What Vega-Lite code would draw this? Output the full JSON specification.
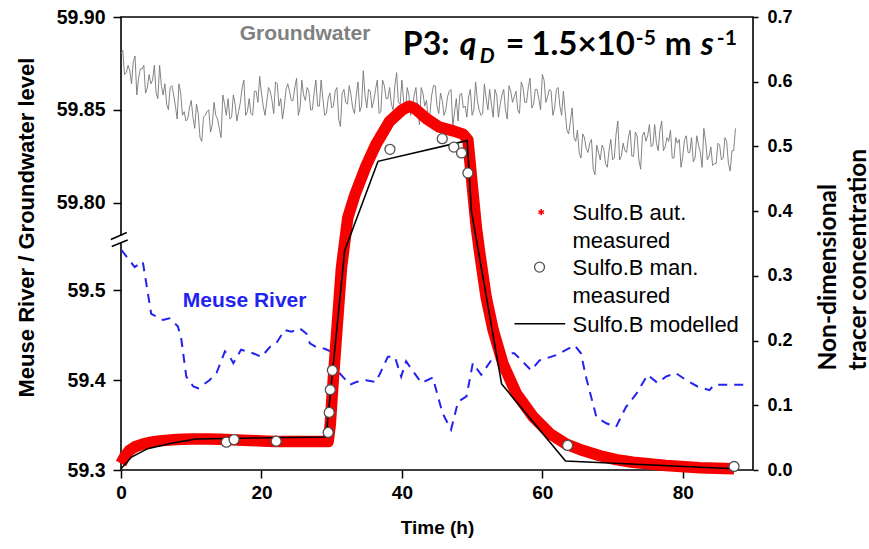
{
  "$schema": "https://vega.github.io/schema/vega-lite/v6.json",
  "width": 632,
  "height": 453,
  "autosize": {"type": "none"},
  "padding": {"left": 121, "top": 17, "right": 116, "bottom": 79},
  "background": "white",
  "config": {
    "view": {"stroke": "black", "strokeWidth": 1.6},
    "axis": {
      "grid": false, "domain": false, "tickColor": "black", "tickWidth": 1.5, "labelFlush": false,
      "labelColor": "black", "labelFont": "Liberation Sans", "labelFontWeight": "bold",
      "titleColor": "black", "titleFont": "Liberation Sans", "titleFontWeight": "bold"
    }
  },
  "datasets": {
    "gw": [
      {"t":0,"v":59.880},{"t":0.5,"v":59.869},{"t":1,"v":59.874},{"t":1.5,"v":59.864},{"t":2,"v":59.879},{"t":2.5,"v":59.867},{"t":3,"v":59.872},{"t":3.5,"v":59.859},{"t":4,"v":59.869},{"t":4.5,"v":59.866},
      {"t":5,"v":59.859},{"t":5.5,"v":59.874},{"t":6,"v":59.858},{"t":6.5,"v":59.853},{"t":7,"v":59.862},{"t":7.5,"v":59.858},{"t":8,"v":59.845},{"t":8.5,"v":59.859},{"t":9,"v":59.849},{"t":9.5,"v":59.845},
      {"t":10,"v":59.855},{"t":10.5,"v":59.840},{"t":11,"v":59.848},{"t":11.5,"v":59.833},{"t":12,"v":59.847},{"t":12.5,"v":59.850},{"t":13,"v":59.842},{"t":13.5,"v":59.847},{"t":14,"v":59.840},{"t":14.5,"v":59.858},
      {"t":15,"v":59.847},{"t":15.5,"v":59.845},{"t":16,"v":59.858},{"t":16.5,"v":59.844},{"t":17,"v":59.854},{"t":17.5,"v":59.866},{"t":18,"v":59.849},{"t":18.5,"v":59.848},{"t":19,"v":59.860},{"t":19.5,"v":59.854},
      {"t":20,"v":59.859},{"t":20.5,"v":59.847},{"t":21,"v":59.862},{"t":21.5,"v":59.855},{"t":22,"v":59.865},{"t":22.5,"v":59.852},{"t":23,"v":59.845},{"t":23.5,"v":59.861},{"t":24,"v":59.860},{"t":24.5,"v":59.855},
      {"t":25,"v":59.867},{"t":25.5,"v":59.851},{"t":26,"v":59.858},{"t":26.5,"v":59.862},{"t":27,"v":59.850},{"t":27.5,"v":59.859},{"t":28,"v":59.852},{"t":28.5,"v":59.866},{"t":29,"v":59.847},{"t":29.5,"v":59.856},
      {"t":30,"v":59.851},{"t":30.5,"v":59.860},{"t":31,"v":59.845},{"t":31.5,"v":59.859},{"t":32,"v":59.854},{"t":32.5,"v":59.863},{"t":33,"v":59.851},{"t":33.5,"v":59.858},{"t":34,"v":59.849},{"t":34.5,"v":59.871},
      {"t":35,"v":59.851},{"t":35.5,"v":59.860},{"t":36,"v":59.855},{"t":36.5,"v":59.866},{"t":37,"v":59.849},{"t":37.5,"v":59.863},{"t":38,"v":59.856},{"t":38.5,"v":59.853},{"t":39,"v":59.863},{"t":39.5,"v":59.854},
      {"t":40,"v":59.866},{"t":40.5,"v":59.848},{"t":41,"v":59.858},{"t":41.5,"v":59.851},{"t":42,"v":59.862},{"t":42.5,"v":59.842},{"t":43,"v":59.859},{"t":43.5,"v":59.855},{"t":44,"v":59.848},{"t":44.5,"v":59.863},
      {"t":45,"v":59.852},{"t":45.5,"v":59.859},{"t":46,"v":59.847},{"t":46.5,"v":59.857},{"t":47,"v":59.861},{"t":47.5,"v":59.849},{"t":48,"v":59.844},{"t":48.5,"v":59.859},{"t":49,"v":59.852},{"t":49.5,"v":59.857},
      {"t":50,"v":59.847},{"t":50.5,"v":59.865},{"t":51,"v":59.850},{"t":51.5,"v":59.848},{"t":52,"v":59.856},{"t":52.5,"v":59.861},{"t":53,"v":59.846},{"t":53.5,"v":59.858},{"t":54,"v":59.853},{"t":54.5,"v":59.861},
      {"t":55,"v":59.845},{"t":55.5,"v":59.860},{"t":56,"v":59.857},{"t":56.5,"v":59.850},{"t":57,"v":59.865},{"t":57.5,"v":59.854},{"t":58,"v":59.862},{"t":58.5,"v":59.851},{"t":59,"v":59.861},{"t":59.5,"v":59.856},
      {"t":60,"v":59.869},{"t":60.5,"v":59.854},{"t":61,"v":59.861},{"t":61.5,"v":59.847},{"t":62,"v":59.861},{"t":62.5,"v":59.852},{"t":63,"v":59.860},{"t":63.5,"v":59.839},{"t":64,"v":59.844},{"t":64.5,"v":59.835},
      {"t":65,"v":59.839},{"t":65.5,"v":59.824},{"t":66,"v":59.835},{"t":66.5,"v":59.827},{"t":67,"v":59.834},{"t":67.5,"v":59.815},{"t":68,"v":59.827},{"t":68.5,"v":59.831},{"t":69,"v":59.821},{"t":69.5,"v":59.828},
      {"t":70,"v":59.823},{"t":70.5,"v":59.837},{"t":71,"v":59.823},{"t":71.5,"v":59.832},{"t":72,"v":59.827},{"t":72.5,"v":59.839},{"t":73,"v":59.825},{"t":73.5,"v":59.836},{"t":74,"v":59.818},{"t":74.5,"v":59.838},
      {"t":75,"v":59.836},{"t":75.5,"v":59.830},{"t":76,"v":59.842},{"t":76.5,"v":59.828},{"t":77,"v":59.844},{"t":77.5,"v":59.830},{"t":78,"v":59.833},{"t":78.5,"v":59.824},{"t":79,"v":59.835},{"t":79.5,"v":59.834},
      {"t":80,"v":59.825},{"t":80.5,"v":59.836},{"t":81,"v":59.827},{"t":81.5,"v":59.822},{"t":82,"v":59.836},{"t":82.5,"v":59.827},{"t":83,"v":59.840},{"t":83.5,"v":59.823},{"t":84,"v":59.830},{"t":84.5,"v":59.821},
      {"t":85,"v":59.832},{"t":85.5,"v":59.823},{"t":86,"v":59.835},{"t":86.5,"v":59.821},{"t":87,"v":59.828},{"t":87.5,"v":59.840},
      {"t":0.25,"v":59.882},{"t":0.75,"v":59.870},{"t":1.25,"v":59.871},{"t":1.75,"v":59.876},{"t":2.25,"v":59.858},{"t":2.75,"v":59.872},{"t":3.25,"v":59.874},{"t":3.75,"v":59.862},{"t":4.25,"v":59.864},{"t":4.75,"v":59.874},
      {"t":5.25,"v":59.856},{"t":5.75,"v":59.863},{"t":6.25,"v":59.864},{"t":6.75,"v":59.850},{"t":7.25,"v":59.863},{"t":7.75,"v":59.852},{"t":8.25,"v":59.864},{"t":8.75,"v":59.847},{"t":9.25,"v":59.844},{"t":9.75,"v":59.851},
      {"t":10.25,"v":59.846},{"t":10.75,"v":59.853},{"t":11.25,"v":59.835},{"t":11.75,"v":59.846},{"t":12.25,"v":59.849},{"t":12.75,"v":59.838},{"t":13.25,"v":59.854},{"t":13.75,"v":59.845},{"t":14.25,"v":59.835},{"t":14.75,"v":59.853},
      {"t":15.25,"v":59.856},{"t":15.75,"v":59.846},{"t":16.25,"v":59.853},{"t":16.75,"v":59.849},{"t":17.25,"v":59.862},{"t":17.75,"v":59.847},{"t":18.25,"v":59.856},{"t":18.75,"v":59.847},{"t":19.25,"v":59.860},{"t":19.75,"v":59.868},
      {"t":20.25,"v":59.852},{"t":20.75,"v":59.854},{"t":21.25,"v":59.860},{"t":21.75,"v":59.848},{"t":22.25,"v":59.864},{"t":22.75,"v":59.856},{"t":23.25,"v":59.852},{"t":23.75,"v":59.864},{"t":24.25,"v":59.855},{"t":24.75,"v":59.862},
      {"t":25.25,"v":59.847},{"t":25.75,"v":59.866},{"t":26.25,"v":59.855},{"t":26.75,"v":59.860},{"t":27.25,"v":59.850},{"t":27.75,"v":59.866},{"t":28.25,"v":59.852},{"t":28.75,"v":59.856},{"t":29.25,"v":59.848},{"t":29.75,"v":59.859},
      {"t":30.25,"v":59.852},{"t":30.75,"v":59.862},{"t":31.25,"v":59.841},{"t":31.75,"v":59.861},{"t":32.25,"v":59.853},{"t":32.75,"v":59.858},{"t":33.25,"v":59.848},{"t":33.75,"v":59.865},{"t":34.25,"v":59.852},{"t":34.75,"v":59.858},
      {"t":35.25,"v":59.861},{"t":35.75,"v":59.851},{"t":36.25,"v":59.861},{"t":36.75,"v":59.848},{"t":37.25,"v":59.866},{"t":37.75,"v":59.856},{"t":38.25,"v":59.862},{"t":38.75,"v":59.850},{"t":39.25,"v":59.870},{"t":39.75,"v":59.853},
      {"t":40.25,"v":59.855},{"t":40.75,"v":59.862},{"t":41.25,"v":59.847},{"t":41.75,"v":59.858},{"t":42.25,"v":59.850},{"t":42.75,"v":59.862},{"t":43.25,"v":59.852},{"t":43.75,"v":59.846},{"t":44.25,"v":59.858},{"t":44.75,"v":59.863},
      {"t":45.25,"v":59.848},{"t":45.75,"v":59.855},{"t":46.25,"v":59.850},{"t":46.75,"v":59.860},{"t":47.25,"v":59.841},{"t":47.75,"v":59.856},{"t":48.25,"v":59.858},{"t":48.75,"v":59.851},{"t":49.25,"v":59.846},{"t":49.75,"v":59.861},
      {"t":50.25,"v":59.850},{"t":50.75,"v":59.855},{"t":51.25,"v":59.847},{"t":51.75,"v":59.864},{"t":52.25,"v":59.850},{"t":52.75,"v":59.853},{"t":53.25,"v":59.861},{"t":53.75,"v":59.846},{"t":54.25,"v":59.858},{"t":54.75,"v":59.850},
      {"t":55.25,"v":59.863},{"t":55.75,"v":59.854},{"t":56.25,"v":59.860},{"t":56.75,"v":59.848},{"t":57.25,"v":59.862},{"t":57.75,"v":59.854},{"t":58.25,"v":59.867},{"t":58.75,"v":59.853},{"t":59.25,"v":59.861},{"t":59.75,"v":59.850},
      {"t":60.25,"v":59.866},{"t":60.75,"v":59.857},{"t":61.25,"v":59.860},{"t":61.75,"v":59.851},{"t":62.25,"v":59.862},{"t":62.75,"v":59.847},{"t":63.25,"v":59.849},{"t":63.75,"v":59.837},{"t":64.25,"v":59.851},{"t":64.75,"v":59.833},
      {"t":65.25,"v":59.827},{"t":65.75,"v":59.837},{"t":66.25,"v":59.829},{"t":66.75,"v":59.832},{"t":67.25,"v":59.818},{"t":67.75,"v":59.831},{"t":68.25,"v":59.823},{"t":68.75,"v":59.829},{"t":69.25,"v":59.819},{"t":69.75,"v":59.834},
      {"t":70.25,"v":59.824},{"t":70.75,"v":59.844},{"t":71.25,"v":59.825},{"t":71.75,"v":59.828},{"t":72.25,"v":59.835},{"t":72.75,"v":59.825},{"t":73.25,"v":59.838},{"t":73.75,"v":59.823},{"t":74.25,"v":59.836},{"t":74.75,"v":59.833},
      {"t":75.25,"v":59.842},{"t":75.75,"v":59.831},{"t":76.25,"v":59.832},{"t":76.75,"v":59.839},{"t":77.25,"v":59.828},{"t":77.75,"v":59.835},{"t":78.25,"v":59.839},{"t":78.75,"v":59.824},{"t":79.25,"v":59.832},{"t":79.75,"v":59.819},
      {"t":80.25,"v":59.834},{"t":80.75,"v":59.827},{"t":81.25,"v":59.835},{"t":81.75,"v":59.824},{"t":82.25,"v":59.831},{"t":82.75,"v":59.819},{"t":83.25,"v":59.833},{"t":83.75,"v":59.825},{"t":84.25,"v":59.820},{"t":84.75,"v":59.821},
      {"t":85.25,"v":59.831},{"t":85.75,"v":59.824},{"t":86.25,"v":59.833},{"t":86.75,"v":59.817},{"t":87.25,"v":59.828}
    ],
    "river": [
      {"t":0.06,"v":59.545},{"t":1.95,"v":59.526},{"t":3.1,"v":59.532},{"t":4.3,"v":59.474},{"t":6.0,"v":59.467},{"t":6.9,"v":59.469},{"t":8.1,"v":59.460},{"t":8.6,"v":59.445},{"t":9.3,"v":59.404},{"t":10.3,"v":59.393},
      {"t":11.0,"v":59.391},{"t":12.6,"v":59.400},{"t":13.6,"v":59.408},{"t":14.8,"v":59.432},{"t":15.5,"v":59.426},{"t":16.0,"v":59.419},{"t":17.1,"v":59.434},{"t":18.8,"v":59.430},{"t":20.0,"v":59.426},{"t":21.2,"v":59.437},
      {"t":22.1,"v":59.441},{"t":23.3,"v":59.456},{"t":24.3,"v":59.454},{"t":25.4,"v":59.458},{"t":26.4,"v":59.452},{"t":26.9,"v":59.441},{"t":27.8,"v":59.437},{"t":29.0,"v":59.435},{"t":29.9,"v":59.432},{"t":31.1,"v":59.408},
      {"t":32.6,"v":59.395},{"t":33.5,"v":59.398},{"t":34.9,"v":59.400},{"t":36.3,"v":59.398},{"t":37.1,"v":59.411},{"t":38.0,"v":59.426},{"t":39.0,"v":59.426},{"t":39.9,"v":59.404},{"t":40.6,"v":59.421},{"t":41.3,"v":59.413},
      {"t":42.8,"v":59.397},{"t":44.4,"v":59.403},{"t":45.8,"v":59.363},{"t":47.0,"v":59.345},{"t":48.0,"v":59.376},{"t":49.2,"v":59.382},{"t":50.1,"v":59.419},{"t":51.3,"v":59.406},{"t":52.7,"v":59.422},{"t":54.1,"v":59.430},
      {"t":56.0,"v":59.430},{"t":56.8,"v":59.424},{"t":58.4,"v":59.411},{"t":59.6,"v":59.422},{"t":62.0,"v":59.428},{"t":64.6,"v":59.439},{"t":65.5,"v":59.430},{"t":66.2,"v":59.404},{"t":67.7,"v":59.359},{"t":69.1,"v":59.352},
      {"t":70.5,"v":59.348},{"t":71.9,"v":59.370},{"t":73.4,"v":59.385},{"t":75.0,"v":59.406},{"t":76.4,"v":59.397},{"t":77.6,"v":59.404},{"t":79.0,"v":59.408},{"t":80.5,"v":59.400},{"t":82.1,"v":59.393},{"t":83.8,"v":59.389},
      {"t":84.5,"v":59.395},{"t":89.5,"v":59.395}
    ],
    "aut": [
      {"t":0,"c":0.010},{"t":0.5,"c":0.020},{"t":1.2,"c":0.030},{"t":2,"c":0.036},{"t":3.1,"c":0.040},{"t":4.3,"c":0.043},{"t":5.5,"c":0.045},{"t":7.9,"c":0.047},{"t":10,"c":0.048},{"t":12.6,"c":0.048},
      {"t":15,"c":0.047},{"t":17.4,"c":0.046},{"t":20,"c":0.045},{"t":22.1,"c":0.044},{"t":25,"c":0.044},{"t":29.5,"c":0.044},{"t":29.8,"c":0.070},{"t":30.1,"c":0.120},{"t":30.7,"c":0.210},{"t":31.4,"c":0.313},
      {"t":32.3,"c":0.390},{"t":33.3,"c":0.425},{"t":34.9,"c":0.470},{"t":36.3,"c":0.503},{"t":38.2,"c":0.538},{"t":40.1,"c":0.557},{"t":41,"c":0.562},{"t":41.8,"c":0.559},{"t":43.5,"c":0.543},{"t":45.3,"c":0.530},
      {"t":47.3,"c":0.524},{"t":48.7,"c":0.519},{"t":49.4,"c":0.510},{"t":49.9,"c":0.453},{"t":50.6,"c":0.375},{"t":51.1,"c":0.334},{"t":52,"c":0.267},{"t":53,"c":0.216},{"t":54.4,"c":0.164},{"t":56.3,"c":0.118},
      {"t":58.7,"c":0.082},{"t":61.1,"c":0.056},{"t":63.4,"c":0.040},{"t":65.8,"c":0.030},{"t":68.2,"c":0.022},{"t":70.5,"c":0.016},{"t":72.9,"c":0.012},{"t":77.6,"c":0.007},{"t":82.4,"c":0.0035},{"t":87.3,"c":0.002}
    ],
    "man": [
      {"t":15.0,"c":0.043},{"t":16.1,"c":0.047},{"t":22.1,"c":0.0445},{"t":29.5,"c":0.058},{"t":29.65,"c":0.089},{"t":29.8,"c":0.124},{"t":30.1,"c":0.154},
      {"t":38.3,"c":0.4955},{"t":45.75,"c":0.512},{"t":47.4,"c":0.499},{"t":48.5,"c":0.490},{"t":49.4,"c":0.459},{"t":63.6,"c":0.038},{"t":87.3,"c":0.0054}
    ],
    "model": [
      {"t":0,"c":0.002},{"t":1.5,"c":0.020},{"t":3.8,"c":0.033},{"t":7,"c":0.041},{"t":10.7,"c":0.048},{"t":29.2,"c":0.051},{"t":31.85,"c":0.339},{"t":36.6,"c":0.477},
      {"t":49.3,"c":0.509},{"t":49.9,"c":0.400},{"t":54.2,"c":0.133},{"t":63.3,"c":0.014},{"t":87.3,"c":0.002}
    ],
    "brk": [
      {"t":-1.45,"t2":0.82,"v":59.7801,"v2":59.7839},
      {"t":-1.32,"t2":0.95,"v":59.7763,"v2":59.7798}
    ],
    "gap": [{"t":0,"v":59.7820,"v2":59.7782}]
  },
  "layer": [
    {
      "layer": [
        {
          "data": {"name": "gw"},
          "mark": {"type": "line", "color": "#767676", "strokeWidth": 0.9},
          "encoding": {
            "x": {"field": "t", "type": "quantitative", "scale": {"domain": [0, 90], "nice": false, "zero": false},
                  "axis": {"title": "Time (h)", "values": [0, 20, 40, 60, 80], "tickSize": 8, "labelFontSize": 19, "labelPadding": 5, "titleFontSize": 19, "titlePadding": 16}},
            "y": {"field": "v", "type": "quantitative", "scale": {"domain": [59.6559, 59.9], "nice": false, "zero": false},
                  "axis": {"orient": "left", "values": [59.8, 59.85, 59.9], "format": ".2f", "tickSize": 8, "labelPadding": 8, "labelFontSize": 19.5,
                           "title": "Meuse River / Groundwater level", "titleFontSize": 22, "titleAngle": 270, "titleAlign": "center", "titleBaseline": "alphabetic", "titleX": -88, "titleY": 210}}
          }
        },
        {
          "data": {"values": [{}]},
          "mark": {"type": "text", "text": "Groundwater", "font": "Liberation Sans", "fontWeight": "bold", "fontSize": 21, "color": "#808080", "align": "center", "baseline": "middle"},
          "encoding": {"x": {"datum": 26.2, "type": "quantitative"}, "y": {"datum": 59.8908, "type": "quantitative"}}
        },
        {
          "data": {"name": "gap"},
          "mark": {"type": "rule", "color": "white", "strokeWidth": 5},
          "encoding": {"x": {"field": "t", "type": "quantitative"}, "y": {"field": "v", "type": "quantitative"}, "y2": {"field": "v2"}}
        },
        {
          "data": {"name": "brk"},
          "mark": {"type": "rule", "color": "black", "strokeWidth": 1.5},
          "encoding": {"x": {"field": "t", "type": "quantitative"}, "x2": {"field": "t2"}, "y": {"field": "v", "type": "quantitative"}, "y2": {"field": "v2"}}
        }
      ]
    },
    {
      "layer": [
        {
          "data": {"name": "river"},
          "mark": {"type": "line", "color": "#2323f0", "strokeWidth": 2, "strokeDash": [9, 7]},
          "encoding": {
            "x": {"field": "t", "type": "quantitative", "scale": {"domain": [0, 90], "nice": false, "zero": false}},
            "y": {"field": "v", "type": "quantitative", "scale": {"domain": [59.3, 59.8045], "nice": false, "zero": false},
                  "axis": {"orient": "left", "values": [59.3, 59.4, 59.5], "format": ".1f", "tickSize": 8, "labelPadding": 8, "labelFontSize": 19.5, "title": null}}
          }
        },
        {
          "data": {"values": [{}]},
          "mark": {"type": "text", "text": "Meuse River", "font": "Liberation Sans", "fontWeight": "bold", "fontSize": 21, "color": "#2323f0", "align": "center", "baseline": "middle"},
          "encoding": {"x": {"datum": 17.6, "type": "quantitative"}, "y": {"datum": 59.488, "type": "quantitative"}}
        }
      ]
    },
    {
      "layer": [
        {
          "data": {"name": "aut"},
          "mark": {"type": "line", "color": "#f60000", "strokeWidth": 11.5, "strokeJoin": "round"},
          "encoding": {
            "x": {"field": "t", "type": "quantitative", "scale": {"domain": [0, 90], "nice": false, "zero": false}},
            "y": {"field": "c", "type": "quantitative", "scale": {"domain": [0, 0.7], "nice": false, "zero": false},
                  "axis": {"orient": "right", "values": [0, 0.1, 0.2, 0.3, 0.4, 0.5, 0.6, 0.7], "format": ".1f", "tickSize": 5, "labelPadding": 9, "labelFontSize": 18,
                           "title": ["Non-dimensional", "tracer concentration"], "titleFont": "Lato", "titleFontSize": 24.5, "titleLineHeight": 30,
                           "titleAngle": 270, "titleAlign": "left", "titleBaseline": "alphabetic", "titleX": 82, "titleY": 353}}
          }
        },
        {
          "data": {"name": "model"},
          "mark": {"type": "line", "color": "black", "strokeWidth": 1.6},
          "encoding": {"x": {"field": "t", "type": "quantitative"}, "y": {"field": "c", "type": "quantitative"}}
        },
        {
          "data": {"name": "man"},
          "mark": {"type": "point", "shape": "circle", "filled": true, "fill": "white", "stroke": "#505050", "strokeWidth": 1.3, "size": 100, "opacity": 1},
          "encoding": {"x": {"field": "t", "type": "quantitative"}, "y": {"field": "c", "type": "quantitative"}}
        },
        {
          "data": {"values": [{}]},
          "mark": {"type": "point", "shape": "M0,-1L0,1M-0.866,-0.5L0.866,0.5M-0.866,0.5L0.866,-0.5", "filled": false, "stroke": "#f60000", "strokeWidth": 1.5, "size": 40, "opacity": 1},
          "encoding": {"x": {"datum": 59.84, "type": "quantitative"}, "y": {"datum": 0.3985, "type": "quantitative"}}
        },
        {
          "data": {"values": [{}]},
          "mark": {"type": "point", "shape": "circle", "filled": true, "fill": "white", "stroke": "#505050", "strokeWidth": 1.3, "size": 100, "opacity": 1},
          "encoding": {"x": {"datum": 59.6, "type": "quantitative"}, "y": {"datum": 0.3135, "type": "quantitative"}}
        },
        {
          "data": {"values": [{}]},
          "mark": {"type": "rule", "color": "black", "strokeWidth": 1.6},
          "encoding": {"x": {"datum": 56.04, "type": "quantitative"}, "x2": {"datum": 63.26}, "y": {"datum": 0.226, "type": "quantitative"}}
        },
        {
          "data": {"values": [{}]},
          "mark": {"type": "text", "text": ["Sulfo.B aut.", "\u00a0measured"], "lineHeight": 28, "font": "Liberation Sans", "fontSize": 22, "color": "black", "align": "left", "baseline": "alphabetic"},
          "encoding": {"x": {"datum": 64.3, "type": "quantitative"}, "y": {"datum": 0.3865, "type": "quantitative"}}
        },
        {
          "data": {"values": [{}]},
          "mark": {"type": "text", "text": ["Sulfo.B man.", "\u00a0measured"], "lineHeight": 28, "font": "Liberation Sans", "fontSize": 22, "color": "black", "align": "left", "baseline": "alphabetic"},
          "encoding": {"x": {"datum": 64.3, "type": "quantitative"}, "y": {"datum": 0.3014, "type": "quantitative"}}
        },
        {
          "data": {"values": [{}]},
          "mark": {"type": "text", "text": "Sulfo.B modelled", "font": "Liberation Sans", "fontSize": 22, "color": "black", "align": "left", "baseline": "alphabetic"},
          "encoding": {"x": {"datum": 64.3, "type": "quantitative"}, "y": {"datum": 0.2133, "type": "quantitative"}}
        },
        {
          "data": {"values": [{}]},
          "mark": {"type": "text", "text": "P3:", "font": "Lato", "fontWeight": "bold", "fontSize": 32, "color": "black", "align": "left", "baseline": "alphabetic"},
          "encoding": {"x": {"datum": 40.14, "type": "quantitative"}, "y": {"datum": 0.6408, "type": "quantitative"}}
        },
        {
          "data": {"values": [{}]},
          "mark": {"type": "text", "text": "q", "font": "Lato", "fontWeight": "bold", "fontStyle": "italic", "fontSize": 32, "color": "black", "align": "left", "baseline": "alphabetic", "dx": 57},
          "encoding": {"x": {"datum": 40.14, "type": "quantitative"}, "y": {"datum": 0.6408, "type": "quantitative"}}
        },
        {
          "data": {"values": [{}]},
          "mark": {"type": "text", "text": "D", "font": "Lato", "fontWeight": "bold", "fontStyle": "italic", "fontSize": 21, "color": "black", "align": "left", "baseline": "alphabetic", "dx": 77, "dy": 8},
          "encoding": {"x": {"datum": 40.14, "type": "quantitative"}, "y": {"datum": 0.6408, "type": "quantitative"}}
        },
        {
          "data": {"values": [{}]},
          "mark": {"type": "text", "text": "=", "font": "Lato", "fontWeight": "bold", "fontSize": 32, "color": "black", "align": "left", "baseline": "alphabetic", "dx": 103},
          "encoding": {"x": {"datum": 40.14, "type": "quantitative"}, "y": {"datum": 0.6408, "type": "quantitative"}}
        },
        {
          "data": {"values": [{}]},
          "mark": {"type": "text", "text": "1.5×10", "font": "Lato", "fontWeight": "bold", "fontSize": 33, "color": "black", "align": "right", "baseline": "alphabetic", "dx": 232},
          "encoding": {"x": {"datum": 40.14, "type": "quantitative"}, "y": {"datum": 0.6408, "type": "quantitative"}}
        },
        {
          "data": {"values": [{}]},
          "mark": {"type": "text", "text": "-5", "font": "Lato", "fontWeight": "bold", "fontSize": 21, "color": "black", "align": "left", "baseline": "alphabetic", "dx": 233, "dy": -10},
          "encoding": {"x": {"datum": 40.14, "type": "quantitative"}, "y": {"datum": 0.6408, "type": "quantitative"}}
        },
        {
          "data": {"values": [{}]},
          "mark": {"type": "text", "text": "m", "font": "Lato", "fontWeight": "bold", "fontSize": 32, "color": "black", "align": "left", "baseline": "alphabetic", "dx": 262},
          "encoding": {"x": {"datum": 40.14, "type": "quantitative"}, "y": {"datum": 0.6408, "type": "quantitative"}}
        },
        {
          "data": {"values": [{}]},
          "mark": {"type": "text", "text": "s", "font": "Lato", "fontWeight": "bold", "fontStyle": "italic", "fontSize": 32, "color": "black", "align": "left", "baseline": "alphabetic", "dx": 298},
          "encoding": {"x": {"datum": 40.14, "type": "quantitative"}, "y": {"datum": 0.6408, "type": "quantitative"}}
        },
        {
          "data": {"values": [{}]},
          "mark": {"type": "text", "text": "-1", "font": "Lato", "fontWeight": "bold", "fontSize": 21, "color": "black", "align": "left", "baseline": "alphabetic", "dx": 314, "dy": -10},
          "encoding": {"x": {"datum": 40.14, "type": "quantitative"}, "y": {"datum": 0.6408, "type": "quantitative"}}
        }
      ]
    }
  ],
  "resolve": {"scale": {"y": "independent"}, "axis": {"y": "independent"}}
}
